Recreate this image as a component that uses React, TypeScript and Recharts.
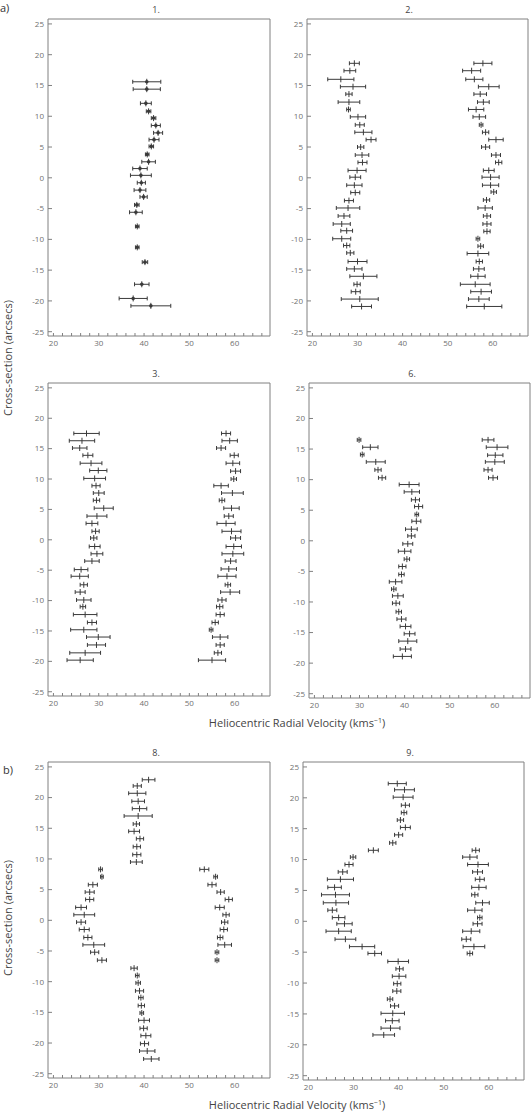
import React from 'react';
import { ScatterChart, Scatter, XAxis, YAxis, ErrorBar } from 'recharts';

// rows: [heliocentric velocity (km/s), cross-section (arcsec), velocity error]
const slit1 = [
  [40.6, 15.6, 3.1], [40.6, 14.4, 3.0], [40.4, 12.1, 1.2], [41.0, 10.8, 0.5],
  [42.1, 9.7, 0.5], [42.6, 8.5, 1.0], [43.1, 7.3, 1.0], [42.2, 6.2, 1.1],
  [41.6, 5.1, 0.5], [40.7, 3.8, 0.4], [41.0, 2.6, 1.5], [39.1, 1.5, 1.6],
  [39.3, 0.4, 2.3], [39.4, -0.8, 0.9], [39.1, -2.0, 1.3], [39.9, -3.1, 0.8],
  [38.4, -4.4, 0.5], [38.2, -5.6, 1.4], [38.5, -7.9, 0.4], [38.5, -11.3, 0.4],
  [40.2, -13.7, 0.6], [39.5, -17.3, 1.6], [37.6, -19.6, 3.1], [41.5, -20.8, 4.4],
];

const slit2 = [
  [29.3, 18.6, 1.1], [28.3, 17.4, 1.3], [26.3, 16.0, 2.9], [29.0, 14.8, 2.8],
  [28.1, 13.6, 0.7], [28.1, 12.3, 2.4], [28.0, 11.1, 0.4], [30.1, 9.9, 1.7],
  [30.5, 8.6, 1.0], [31.3, 7.4, 1.9], [33.0, 6.2, 1.1], [30.7, 5.0, 0.7],
  [31.0, 3.7, 1.5], [31.1, 2.5, 1.0], [29.9, 1.2, 2.0], [29.5, 0.1, 1.2],
  [29.3, -1.2, 1.7], [29.5, -2.4, 1.0], [28.1, -3.7, 1.0], [27.9, -4.9, 2.6],
  [27.0, -6.2, 1.3], [26.5, -7.5, 1.9], [27.6, -8.6, 1.3], [26.5, -9.9, 2.0],
  [27.6, -11.0, 0.7], [28.4, -12.2, 0.8], [30.0, -13.6, 2.1], [29.3, -14.8, 1.7],
  [31.3, -16.0, 3.0], [29.9, -17.3, 0.7], [29.6, -18.5, 1.0], [30.5, -19.7, 4.1],
  [30.9, -20.9, 2.2],
  [57.8, 18.6, 2.0], [55.3, 17.4, 2.0], [55.9, 16.0, 1.9], [59.1, 14.8, 2.3],
  [57.2, 13.6, 1.4], [57.9, 12.3, 1.3], [56.3, 11.1, 1.7], [57.0, 9.9, 1.4],
  [57.4, 8.6, 0.4], [58.4, 7.4, 0.7], [60.7, 6.2, 1.6], [58.4, 5.0, 0.9],
  [60.7, 3.7, 1.0], [61.3, 2.5, 0.7], [59.1, 1.2, 1.2], [59.5, 0.1, 1.9],
  [59.5, -1.2, 1.8], [60.2, -2.3, 0.6], [58.6, -3.6, 0.7], [58.3, -4.9, 1.6],
  [58.7, -6.2, 0.8], [58.7, -7.5, 0.9], [58.7, -8.7, 0.7], [56.7, -9.9, 0.4],
  [57.3, -11.1, 0.6], [56.7, -12.3, 2.4], [57.0, -13.6, 0.7], [56.9, -14.8, 1.2],
  [56.7, -16.0, 1.6], [56.1, -17.3, 3.3], [57.4, -18.5, 2.3], [56.9, -19.7, 2.3],
  [58.1, -20.9, 3.9],
];

const slit3 = [
  [27.3, 17.5, 2.8], [26.3, 16.3, 2.8], [25.8, 15.1, 1.6], [27.6, 13.9, 1.1],
  [28.3, 12.6, 2.4], [29.9, 11.4, 1.9], [29.1, 10.1, 2.4], [29.4, 8.9, 0.9],
  [30.0, 7.7, 1.2], [29.5, 6.5, 0.7], [31.1, 5.2, 2.1], [29.6, 3.9, 2.2],
  [28.5, 2.7, 1.3], [29.3, 1.4, 0.8], [28.9, 0.3, 0.7], [29.1, -1.1, 1.2],
  [29.6, -2.3, 1.3], [28.5, -3.5, 1.6], [26.1, -4.9, 1.5], [25.8, -6.0, 1.9],
  [26.7, -7.4, 0.8], [25.9, -8.6, 1.1], [26.7, -9.9, 1.6], [26.5, -11.0, 0.6],
  [27.0, -12.3, 2.6], [28.5, -13.6, 1.0], [26.7, -14.8, 2.9], [29.9, -16.0, 2.6],
  [29.5, -17.3, 2.0], [27.0, -18.6, 3.4], [25.9, -19.8, 2.9],
  [58.1, 17.5, 1.0], [58.9, 16.3, 1.7], [57.0, 15.1, 1.0], [59.9, 13.9, 0.9],
  [59.6, 12.6, 1.5], [60.2, 11.3, 1.1], [59.8, 10.0, 0.6], [57.0, 8.9, 1.6],
  [59.5, 7.7, 2.4], [57.2, 6.5, 0.6], [59.3, 5.2, 1.7], [58.7, 3.9, 1.0],
  [58.1, 2.7, 2.0], [59.3, 1.4, 2.1], [60.2, 0.3, 1.1], [59.8, -1.1, 1.7],
  [59.6, -2.3, 2.4], [59.1, -3.5, 1.2], [58.7, -4.8, 1.7], [58.3, -6.0, 2.0],
  [58.5, -7.4, 0.6], [59.0, -8.6, 2.1], [57.2, -9.9, 0.9], [56.7, -11.0, 0.7],
  [56.8, -12.3, 0.9], [55.7, -13.6, 0.7], [54.8, -14.8, 0.4], [56.8, -16.0, 1.7],
  [56.8, -17.3, 0.9], [56.3, -18.6, 0.8], [55.0, -19.8, 3.0],
];

const slit6 = [
  [29.9, 16.5, 0.4], [32.4, 15.3, 1.7], [30.6, 14.1, 0.4], [33.6, 12.9, 2.1],
  [34.1, 11.6, 0.7], [35.0, 10.3, 0.8], [41.0, 9.2, 2.2], [41.6, 8.0, 1.7],
  [42.4, 6.7, 0.9], [43.1, 5.6, 0.9], [42.7, 4.3, 0.4], [42.6, 3.2, 1.0],
  [41.5, 1.9, 1.3], [41.5, 0.8, 0.8], [40.7, -0.5, 1.1], [40.0, -1.7, 1.4],
  [40.5, -3.0, 0.6], [39.5, -4.2, 0.8], [39.3, -5.5, 0.6], [38.0, -6.7, 1.4],
  [37.6, -7.9, 0.5], [38.5, -9.0, 1.2], [38.1, -10.2, 0.8], [38.7, -11.6, 0.6],
  [39.3, -12.8, 1.0], [40.2, -14.0, 1.2], [41.1, -15.2, 1.2], [40.7, -16.4, 2.0],
  [40.2, -17.7, 1.2], [39.5, -18.9, 2.0],
  [58.5, 16.5, 1.3], [60.5, 15.3, 2.4], [60.1, 14.0, 1.7], [60.0, 12.9, 2.1],
  [58.5, 11.6, 0.9], [59.6, 10.3, 1.0],
];

const slit8 = [
  [41.0, 22.9, 1.4], [38.5, 21.9, 0.9], [38.5, 20.7, 1.9], [38.7, 19.4, 1.4],
  [39.0, 18.2, 1.6], [38.7, 17.0, 3.1], [38.3, 15.7, 0.7], [37.8, 14.5, 1.2],
  [39.1, 13.3, 0.8], [38.4, 12.0, 0.8], [38.4, 10.7, 0.9], [38.3, 9.5, 1.3],
  [30.4, 8.3, 0.4], [30.7, 7.1, 0.3], [28.7, 5.8, 1.0], [28.0, 4.6, 1.0],
  [28.0, 3.4, 0.9], [26.1, 2.1, 1.2], [26.8, 0.9, 2.3], [26.1, -0.3, 1.0],
  [26.8, -1.5, 1.1], [27.6, -2.8, 0.9], [28.9, -4.0, 2.4], [29.1, -5.2, 0.9],
  [30.7, -6.5, 1.0],
  [37.8, -7.8, 0.7], [38.5, -9.0, 0.4], [38.7, -10.2, 0.5], [39.0, -11.5, 0.9],
  [39.3, -12.6, 0.5], [39.4, -13.9, 0.7], [39.5, -15.1, 0.4], [40.0, -16.3, 1.2],
  [39.9, -17.6, 0.8], [40.4, -18.8, 1.1], [40.1, -20.1, 0.9], [40.7, -21.3, 1.7],
  [41.6, -22.6, 1.7],
  [53.3, 8.3, 1.0], [55.8, 7.1, 0.4], [55.0, 5.8, 0.9], [56.9, 4.6, 0.8],
  [58.7, 3.4, 0.8], [56.7, 2.1, 1.0], [58.1, 0.9, 0.7], [57.8, -0.3, 0.7],
  [57.6, -1.5, 0.8], [56.8, -2.8, 0.6], [57.8, -4.0, 1.5], [56.1, -5.2, 0.4],
  [56.1, -6.5, 0.4],
];

const slit9 = [
  [39.7, 22.3, 2.0], [41.3, 21.3, 2.2], [41.0, 20.1, 2.2], [41.5, 18.8, 0.9],
  [41.2, 17.6, 0.6], [40.4, 16.4, 0.7], [41.5, 15.2, 1.1], [40.0, 14.0, 0.9],
  [38.7, 12.7, 0.7], [34.4, 11.5, 1.1],
  [29.9, 10.4, 0.6], [29.0, 9.2, 0.9], [27.6, 8.0, 1.0], [27.1, 6.8, 2.9],
  [25.8, 5.5, 1.5], [26.0, 4.3, 3.1], [26.1, 3.0, 2.8], [25.3, 1.8, 1.0],
  [26.7, 0.6, 1.4], [28.0, -0.4, 1.7], [26.7, -1.6, 2.8], [28.2, -2.9, 2.3],
  [31.9, -4.1, 2.8], [34.7, -5.2, 1.5],
  [39.9, -6.5, 2.3], [40.2, -7.7, 0.8], [40.1, -8.9, 1.5], [39.7, -10.1, 0.8],
  [39.6, -11.3, 0.9], [38.1, -12.6, 0.6], [39.1, -13.7, 0.9], [38.7, -14.9, 2.6],
  [38.6, -16.1, 1.5], [38.2, -17.3, 2.1], [36.7, -18.4, 2.4],
  [57.1, 11.5, 0.8], [55.8, 10.4, 1.6], [57.6, 9.2, 2.3], [57.5, 8.0, 1.1],
  [58.0, 6.8, 1.0], [57.8, 5.5, 1.6], [56.9, 4.3, 0.7], [58.6, 3.0, 1.5],
  [56.9, 1.8, 1.6], [58.0, 0.6, 0.5], [57.5, -0.4, 1.0], [56.1, -1.6, 1.9],
  [55.0, -2.9, 1.0], [56.7, -4.1, 2.4], [55.8, -5.2, 0.6],
];

const velTicks = [20, 22, 24, 26, 28, 30, 32, 34, 36, 38, 40, 42, 44, 46, 48, 50, 52, 54, 56, 58, 60, 62, 64, 66];
const posTicks = [-25, -20, -15, -10, -5, 0, 5, 10, 15, 20, 25];

const FONT = '"Open Sans", "Noto Sans", sans-serif';
const FRAME = '#808080';
const INK = '#3a3a3a';
const tickStyle = { fontSize: 8, fill: '#707070', fontFamily: FONT };
const X_DOMAIN = [18.8, 67.8];
const Y_DOMAIN = [-25.7, 25.8];

function Panel({ title, rows, left, top, w, h, titleX, dots }: any) {
  const data = rows.map(([v, p, e]: number[]) => ({ v, p, e }));
  const shape = (props: any) => {
    const { cx, cy } = props;
    return (
      <g>
        <line x1={cx} x2={cx} y1={cy - 3} y2={cy + 3} stroke={INK} strokeWidth={1} />
        {dots && <circle cx={cx} cy={cy} r={1.8} fill={INK} />}
      </g>
    );
  };
  return (
    <>
      <div style={{ position: 'absolute', left: titleX - 10, width: 20, top: top - 16, textAlign: 'center', fontFamily: FONT, fontSize: 9, color: '#444' }}>
        {title}
      </div>
      <div style={{ position: 'absolute', left: left - 30, top: top - 1 }}>
        <ScatterChart width={w + 32} height={h + 21} margin={{ top: 0, right: 0, bottom: 0, left: 0 }}>
          <XAxis
            type="number" dataKey="v" domain={X_DOMAIN} allowDataOverflow ticks={velTicks} interval={0}
            height={20} tickSize={-3} tickMargin={7} stroke={FRAME} tick={tickStyle}
            tickFormatter={(t: number) => (t % 10 === 0 ? String(t) : '')}
          />
          <XAxis
            xAxisId="t" orientation="top" type="number" dataKey="v" domain={X_DOMAIN} allowDataOverflow ticks={velTicks}
            interval={0} height={1} tickSize={-3} stroke={FRAME} tick={false}
          />
          <YAxis
            type="number" dataKey="p" domain={Y_DOMAIN} allowDataOverflow ticks={posTicks} interval={0}
            width={30} tickSize={-4} tickMargin={8} stroke={FRAME} tick={tickStyle}
          />
          <YAxis
            yAxisId="r" orientation="right" type="number" dataKey="p" domain={Y_DOMAIN} allowDataOverflow ticks={posTicks}
            interval={0} width={1} tickSize={-4} stroke={FRAME} tick={false}
          />
          <Scatter data={data} shape={shape} isAnimationActive={false}>
            <ErrorBar dataKey="e" direction="x" width={2} stroke={INK} strokeWidth={1} />
          </Scatter>
          <Scatter xAxisId="t" yAxisId="r" data={data} shape={() => <g />} isAnimationActive={false} />
        </ScatterChart>
      </div>
    </>
  );
}

function VelocityLabel({ top }: { top: number }) {
  return (
    <svg style={{ position: 'absolute', left: 180, top: top - 12 }} width={240} height={24}>
      <text x={117} y={16} textAnchor="middle" fontFamily={FONT} fontSize={11} fill="#444">
        Heliocentric Radial Velocity (kms<tspan dy={-4} fontSize={7}>−1</tspan><tspan dy={4}>)</tspan>
      </text>
    </svg>
  );
}

function PositionLabel({ cy }: { cy: number }) {
  return (
    <svg style={{ position: 'absolute', left: 0, top: cy - 80 }} width={20} height={160}>
      <text x={12} y={80} transform="rotate(-90 12 80)" textAnchor="middle" fontFamily={FONT} fontSize={11} fill="#444">
        Cross-section (arcsecs)
      </text>
    </svg>
  );
}

export default function App() {
  return (
    <div style={{ position: 'absolute', left: 0, top: 0, width: 531, height: 1114, background: '#fff', overflow: 'hidden' }}>
      <div style={{ position: 'absolute', left: 0, top: 0, fontFamily: FONT, fontSize: 11, color: '#333' }}>a)</div>
      <div style={{ position: 'absolute', left: 3, top: 762, fontFamily: FONT, fontSize: 11, color: '#333' }}>b)</div>

      <Panel title="1." rows={slit1} left={48} top={19} w={221} h={317} titleX={156} dots />
      <Panel title="2." rows={slit2} left={307} top={19} w={220} h={317} titleX={409} />
      <Panel title="3." rows={slit3} left={48} top={383} w={221} h={313} titleX={156} />
      <Panel title="6." rows={slit6} left={309} top={383} w={220} h={315} titleX={412} />
      <Panel title="8." rows={slit8} left={48} top={762} w={221} h={316} titleX={156} />
      <Panel title="9." rows={slit9} left={303} top={762} w={220} h={318} titleX={410} />

      <PositionLabel cy={358} />
      <PositionLabel cy={918} />
      <VelocityLabel top={723} />
      <VelocityLabel top={1105} />
    </div>
  );
}
